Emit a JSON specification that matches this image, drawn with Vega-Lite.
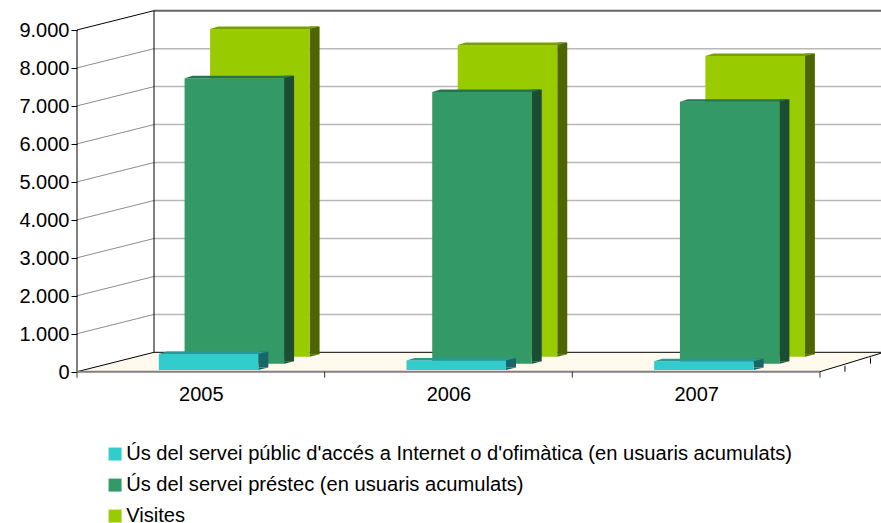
{"$schema":"https://vega.github.io/schema/vega-lite/v6.json","width":804,"height":380,"padding":{"left":77,"top":0,"right":0,"bottom":143},"autosize":{"type":"none"},"background":"white","config":{"view":{"stroke":null},"font":"Liberation Sans"},
"datasets":{"bars":[
{"year":2005,"series":"Visites","value":8630},{"year":2006,"series":"Visites","value":8210},{"year":2007,"series":"Visites","value":7920},
{"year":2005,"series":"Ús del servei préstec (en usuaris acumulats)","value":7516},{"year":2006,"series":"Ús del servei préstec (en usuaris acumulats)","value":7155},{"year":2007,"series":"Ús del servei préstec (en usuaris acumulats)","value":6900},
{"year":2005,"series":"Ús del servei públic d'accés a Internet o d'ofimàtica (en usuaris acumulats)","value":421},{"year":2006,"series":"Ús del servei públic d'accés a Internet o d'ofimàtica (en usuaris acumulats)","value":250},{"year":2007,"series":"Ús del servei públic d'accés a Internet o d'ofimàtica (en usuaris acumulats)","value":230}],
"grid":[{"year":2004.5,"value":1000},{"year":2004.5,"value":2000},{"year":2004.5,"value":3000},{"year":2004.5,"value":4000},{"year":2004.5,"value":5000},{"year":2004.5,"value":6000},{"year":2004.5,"value":7000},{"year":2004.5,"value":8000}],
"ticks":[{"year":2004.5,"value":0},{"year":2005.5,"value":0},{"year":2006.5,"value":0},{"year":2007.5,"value":0}],
"origin":[{"year":2004.5,"value":0}],
"corner":[{"year":2007.5,"value":0}],
"top":[{"year":2004.5,"value":9000}]},
"encoding":{
"x":{"field":"year","type":"quantitative","scale":{"domain":[2004.5,2007.7464],"nice":false,"zero":false,"padding":0},"axis":{"values":[2005,2006,2007],"format":"d","title":null,"grid":false,"ticks":false,"domain":false,"labelFontSize":20,"labelColor":"black","labelPadding":4,"labelFont":"Liberation Sans"}},
"y":{"field":"value","type":"quantitative","scale":{"domain":[-218.6,9789],"nice":false,"zero":false,"padding":0},"axis":{"values":[0,1000,2000,3000,4000,5000,6000,7000,8000,9000],"labelExpr":"replace(format(datum.value,','),',','.')","title":null,"grid":false,"domain":false,"tickColor":"black","tickSize":6,"labelFontSize":20,"labelColor":"black","labelPadding":2,"labelOffset":1,"labelFont":"Liberation Sans"}}},
"layer":[
{"data":{"name":"origin"},"mark":{"type":"point","filled":true,"size":4,"opacity":1,"fill":"#FFF9EE","strokeWidth":0,"shape":"M0 0 L77 -19.4 L804 -19.4 L804 -18.5 L743 0 Z"}},
{"data":{"name":"grid"},"mark":{"type":"rule","color":"#b8b8b8","strokeWidth":1.5,"yOffset":-19.3},"encoding":{"x":{"datum":2004.811},"x2":{"datum":2007.7464}}},
{"data":{"name":"grid"},"mark":{"type":"point","filled":false,"size":4,"opacity":1,"stroke":"#8c8c8c","strokeWidth":1,"shape":"M0 0 L77 -19.3"}},
{"data":{"name":"top"},"mark":{"type":"rule","color":"#666666","strokeWidth":2,"yOffset":-19.3},"encoding":{"x":{"datum":2004.811},"x2":{"datum":2007.7464}}},
{"data":{"name":"top"},"mark":{"type":"point","filled":false,"size":4,"opacity":1,"stroke":"black","strokeWidth":1,"shape":"M0 0 L77 -19.3 L77 322.4 M0 0 L0 341.7"}},
{"data":{"name":"origin"},"mark":{"type":"rule","color":"black","strokeWidth":1,"yOffset":-19.4},"encoding":{"x":{"datum":2004.811},"x2":{"datum":2007.7464}}},
{"data":{"name":"origin"},"mark":{"type":"point","filled":false,"size":4,"opacity":1,"stroke":"black","strokeWidth":1,"shape":"M0 0 L77 -19.4"}},
{"data":{"name":"origin"},"mark":{"type":"rule","color":"#808080","strokeWidth":2},"encoding":{"x2":{"datum":2007.5}}},
{"data":{"name":"ticks"},"mark":{"type":"point","filled":false,"size":4,"opacity":1,"stroke":"#333333","strokeWidth":1,"shape":"M0 0 L0 6"}},
{"data":{"name":"corner"},"mark":{"type":"point","filled":false,"size":4,"opacity":1,"stroke":"black","strokeWidth":1,"shape":"M0 0 L61 -18.5 M25 -6 L25 0 M50.5 -14 L50.5 -8"}},

{"data":{"name":"bars"},"transform":[{"filter":{"field":"series","equal":"Visites"}}],"mark":{"type":"bar","size":10,"xOffset":113.75,"yOffset":-17.5,"y2Offset":-17.5,"color":"#4d6600"},"encoding":{"y2":{"datum":0},"y":{"field":"value","type":"quantitative","stack":null}}},
{"data":{"name":"bars"},"transform":[{"filter":{"field":"series","equal":"Visites"}}],"mark":{"type":"point","filled":true,"size":4,"opacity":1,"fill":"#4d6600","strokeWidth":0,"shape":"M108.75 -15 L118.75 -17.5 L108.75 -17.5 Z"},"encoding":{"y":{"datum":0}}},
{"data":{"name":"bars"},"transform":[{"filter":{"field":"series","equal":"Visites"}}],"mark":{"type":"bar","size":99.5,"xOffset":59,"yOffset":-15,"y2Offset":-15},"encoding":{"y2":{"datum":0},"y":{"field":"value","type":"quantitative","stack":null},"color":{"field":"series","type":"nominal","sort":null,"scale":{"domain":["Ús del servei públic d'accés a Internet o d'ofimàtica (en usuaris acumulats)","Ús del servei préstec (en usuaris acumulats)","Visites"],"range":["#33CCCC","#339966","#99CC00"]},"legend":{"orient":"none","legendX":28,"legendY":444,"title":null,"symbolType":"square","symbolSize":169,"symbolStrokeWidth":0,"symbolOpacity":1,"labelFontSize":20.15,"labelColor":"black","labelFont":"Liberation Sans","labelLimit":800,"labelOffset":1,"rowPadding":10,"padding":0}}}},
{"data":{"name":"bars"},"transform":[{"filter":{"field":"series","equal":"Visites"}}],"mark":{"type":"point","filled":true,"size":4,"opacity":1,"fill":"#7a9e00","strokeWidth":0,"shape":"M9.25 -15 L108.75 -15 L118.75 -17.5 L17.25 -17.5 Z"}},

{"data":{"name":"bars"},"transform":[{"filter":{"field":"series","equal":"Ús del servei préstec (en usuaris acumulats)"}}],"mark":{"type":"bar","size":10,"xOffset":88.25,"yOffset":-10.5,"y2Offset":-10.5,"color":"#1a4d33"},"encoding":{"y2":{"datum":0},"y":{"field":"value","type":"quantitative","stack":null}}},
{"data":{"name":"bars"},"transform":[{"filter":{"field":"series","equal":"Ús del servei préstec (en usuaris acumulats)"}}],"mark":{"type":"point","filled":true,"size":4,"opacity":1,"fill":"#1a4d33","strokeWidth":0,"shape":"M83.25 -8 L93.25 -10.5 L83.25 -10.5 Z"},"encoding":{"y":{"datum":0}}},
{"data":{"name":"bars"},"transform":[{"filter":{"field":"series","equal":"Ús del servei préstec (en usuaris acumulats)"}}],"mark":{"type":"bar","size":99.5,"xOffset":33.5,"yOffset":-8,"y2Offset":-8},"encoding":{"y2":{"datum":0},"y":{"field":"value","type":"quantitative","stack":null},"color":{"field":"series","type":"nominal"}}},
{"data":{"name":"bars"},"transform":[{"filter":{"field":"series","equal":"Ús del servei préstec (en usuaris acumulats)"}}],"mark":{"type":"point","filled":true,"size":4,"opacity":1,"fill":"#267350","strokeWidth":0,"shape":"M-16.25 -8 L83.25 -8 L93.25 -10.5 L-8.25 -10.5 Z"}},

{"data":{"name":"bars"},"transform":[{"filter":{"field":"series","equal":"Ús del servei públic d'accés a Internet o d'ofimàtica (en usuaris acumulats)"}}],"mark":{"type":"bar","size":10,"xOffset":62.5,"yOffset":-4.2,"y2Offset":-4.2,"color":"#1a6666"},"encoding":{"y2":{"datum":0},"y":{"field":"value","type":"quantitative","stack":null}}},
{"data":{"name":"bars"},"transform":[{"filter":{"field":"series","equal":"Ús del servei públic d'accés a Internet o d'ofimàtica (en usuaris acumulats)"}}],"mark":{"type":"point","filled":true,"size":4,"opacity":1,"fill":"#1a6666","strokeWidth":0,"shape":"M57.5 -1.7 L67.5 -4.2 L57.5 -4.2 Z"},"encoding":{"y":{"datum":0}}},
{"data":{"name":"bars"},"transform":[{"filter":{"field":"series","equal":"Ús del servei públic d'accés a Internet o d'ofimàtica (en usuaris acumulats)"}}],"mark":{"type":"bar","size":99.5,"xOffset":7.75,"yOffset":-1.7,"y2Offset":-1.7},"encoding":{"y2":{"datum":0},"y":{"field":"value","type":"quantitative","stack":null},"color":{"field":"series","type":"nominal"}}},
{"data":{"name":"bars"},"transform":[{"filter":{"field":"series","equal":"Ús del servei públic d'accés a Internet o d'ofimàtica (en usuaris acumulats)"}}],"mark":{"type":"point","filled":true,"size":4,"opacity":1,"fill":"#269999","strokeWidth":0,"shape":"M-42 -1.7 L57.5 -1.7 L67.5 -4.2 L-34 -4.2 Z"}}
]}
